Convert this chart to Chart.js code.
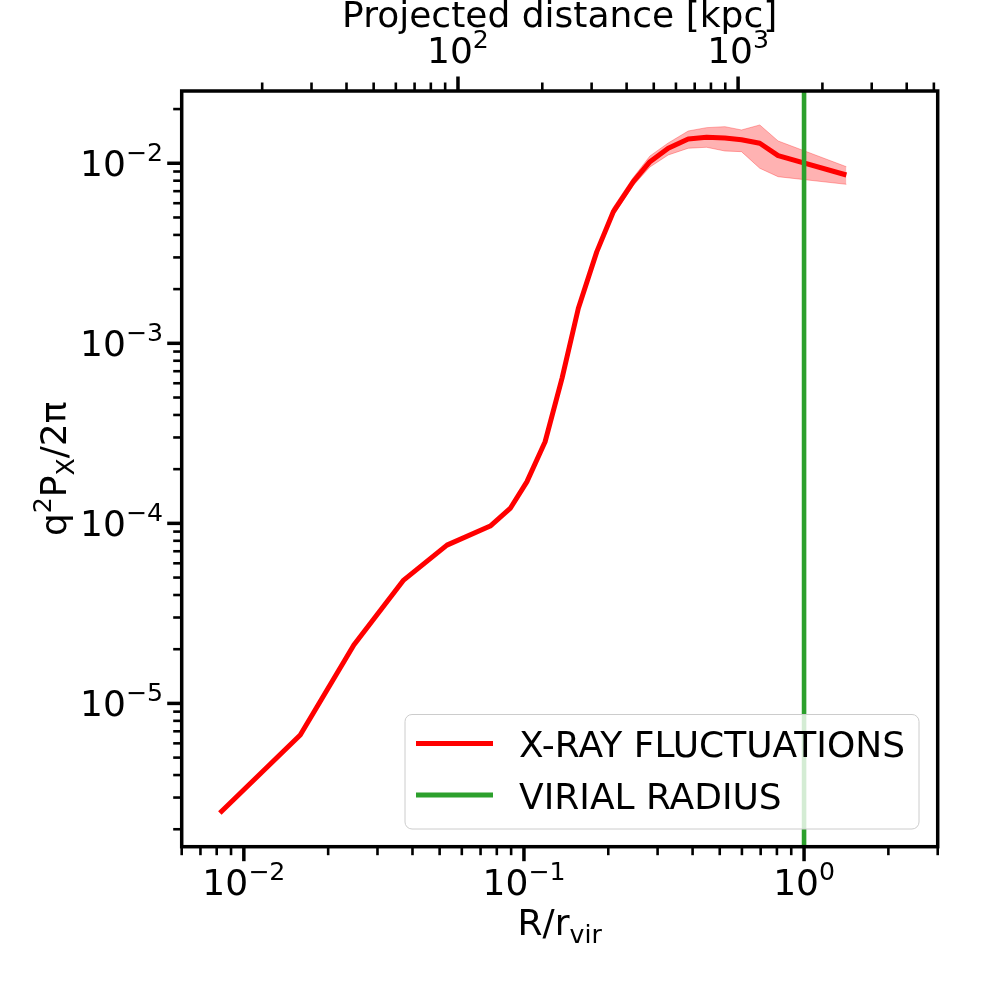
<!DOCTYPE html>
<html>
<head>
<meta charset="utf-8">
<script src="https://cdn.jsdelivr.net/npm/chart.js@4.4.1/dist/chart.umd.min.js"></script>
<style>
  html, body { margin: 0; padding: 0; background: #fff; }
  canvas { display: block; }
</style>
</head>
<body>
<canvas id="chart" width="1008" height="1008"></canvas>
<script>
// ---- DATA ----
// R / r_vir of each bin
const radius = [0.00821, 0.0159, 0.0247, 0.0372, 0.0531, 0.0758, 0.0893, 0.1024, 0.119, 0.1368,
                0.1564, 0.1819, 0.2085, 0.2457, 0.2818, 0.3274, 0.3859, 0.4487, 0.5215, 0.598,
                0.695, 0.808, 1.416];
// q^2 P_X / 2pi
const power = [2.46e-6, 6.67e-6, 2.11e-5, 4.84e-5, 7.57e-5, 9.66e-5, 1.21e-4, 1.70e-4, 2.84e-4, 6.41e-4,
               1.565e-3, 3.22e-3, 5.38e-3, 7.9e-3, 1.021e-2, 1.212e-2, 1.365e-2, 1.395e-2, 1.382e-2, 1.352e-2,
               1.291e-2, 1.102e-2, 8.61e-3];
// scatter band (only visible in the outer bins)
const bandRadius = [0.1819, 0.2085, 0.2457, 0.2818, 0.3274, 0.3859, 0.4487, 0.5215, 0.598, 0.695, 0.808, 1.416];
const bandHigh   = [3.34e-3, 5.7e-3, 8.34e-3, 1.098e-2, 1.296e-2, 1.511e-2, 1.577e-2, 1.597e-2, 1.531e-2, 1.632e-2, 1.33e-2, 9.57e-3];
const bandLow    = [3.12e-3, 5.15e-3, 7.53e-3, 9.54e-3, 1.112e-2, 1.212e-2, 1.227e-2, 1.17e-2, 1.16e-2, 9.38e-3, 8.42e-3, 7.64e-3];

const virialRadius = 1;
const rvirKpc = 1720;              // kpc per r_vir, for the top axis
const xLimits = [0.006, 3];
const yLimits = [1.6e-6, 0.0252];
const xMajor = [0.01, 0.1, 1];
const yMajor = [1e-5, 1e-4, 1e-3, 1e-2];
const kpcMajor = [100, 1000];
const seriesLabels = ['X-RAY FLUCTUATIONS', 'VIRIAL RADIUS'];

const RED = '#ff0000';
const GREEN = '#2ca02c';
const FONT = '"DejaVu Sans", sans-serif';
const FS = 36;
const SUP = 15;     // raise of superscripts
const SUB = -7.8;   // drop of subscripts

const pts = (xs, ys) => xs.map((x, i) => ({ x, y: ys[i] }));

// minor log ticks (2..9 per decade) inside a range
function minorTicks(lo, hi) {
  const out = [];
  for (let e = Math.floor(Math.log10(lo)); e <= Math.ceil(Math.log10(hi)); e++) {
    for (let m = 2; m <= 9; m++) {
      const v = m * Math.pow(10, e);
      if (v >= lo * 0.9999 && v <= hi * 1.0001) out.push(v);
    }
  }
  return out;
}

function setFont(ctx, size) { ctx.font = size.toFixed(2) + 'px ' + FONT; }

function partsWidth(ctx, parts) {
  let w = 0;
  parts.forEach(p => { setFont(ctx, p.size || FS); w += ctx.measureText(p.t).width; });
  return w;
}

// draws text made of runs (normal / raised / lowered)
function drawParts(ctx, parts, x, y, align) {
  const w = partsWidth(ctx, parts);
  let cx = align === 'center' ? x - w / 2 : align === 'right' ? x - w : x;
  ctx.textAlign = 'left';
  ctx.textBaseline = 'alphabetic';
  parts.forEach(p => {
    setFont(ctx, p.size || FS);
    ctx.fillText(p.t, cx, y - (p.dy || 0));
    cx += ctx.measureText(p.t).width;
  });
}

function powLabel(v) {
  const e = Math.round(Math.log10(v));
  return [{ t: '10' }, { t: e < 0 ? '\u2212' + (-e) : String(e), size: FS * 0.7, dy: SUP }];
}

const axesPlugin = {
  id: 'axes',
  afterDraw(chart) {
    const { ctx, chartArea: a, scales } = chart;
    const xs = scales.x, ys = scales.y, top = scales.x2;
    ctx.save();
    ctx.strokeStyle = '#000';
    ctx.fillStyle = '#000';
    ctx.lineCap = 'butt';

    const tick = (px, py, dx, dy, w) => {
      ctx.lineWidth = w;
      ctx.beginPath();
      ctx.moveTo(px, py);
      ctx.lineTo(px + dx, py + dy);
      ctx.stroke();
    };

    // bottom axis
    minorTicks(xLimits[0], xLimits[1]).forEach(v => tick(xs.getPixelForValue(v), a.bottom, 0, 8.5, 2.6));
    xMajor.forEach(v => {
      const px = xs.getPixelForValue(v);
      tick(px, a.bottom, 0, 14.5, 3.5);
      drawParts(ctx, powLabel(v), px, 895, 'center');
    });

    // left axis
    minorTicks(yLimits[0], yLimits[1]).forEach(v => tick(a.left, ys.getPixelForValue(v), -8.5, 0, 2.6));
    yMajor.forEach(v => {
      const py = ys.getPixelForValue(v);
      tick(a.left, py, -14.5, 0, 3.5);
      drawParts(ctx, powLabel(v), 163, py + 12.5, 'right');
    });

    // top axis, projected distance in kpc
    const kLo = xLimits[0] * rvirKpc, kHi = xLimits[1] * rvirKpc;
    minorTicks(kLo, kHi).forEach(v => tick(top.getPixelForValue(v), a.top, 0, -8.5, 2.6));
    kpcMajor.forEach(v => {
      const px = top.getPixelForValue(v);
      tick(px, a.top, 0, -14.5, 3.5);
      drawParts(ctx, powLabel(v), px, 63, 'center');
    });

    // frame
    ctx.lineWidth = 3.5;
    ctx.strokeRect(a.left, a.top, a.right - a.left, a.bottom - a.top);

    // axis titles
    const midX = (a.left + a.right) / 2;
    drawParts(ctx, [{ t: 'Projected distance [kpc]' }], midX, 27, 'center');
    drawParts(ctx, [{ t: 'R/r' }, { t: 'vir', size: FS * 0.7, dy: SUB }], midX, 935, 'center');
    ctx.save();
    ctx.translate(66, (a.top + a.bottom) / 2);
    ctx.rotate(-Math.PI / 2);
    drawParts(ctx, [
      { t: 'q' }, { t: '2', size: FS * 0.7, dy: SUP },
      { t: 'P' }, { t: 'X', size: FS * 0.7, dy: SUB },
      { t: '/2\u03c0' }
    ], 0, 0, 'center');
    ctx.restore();

    // legend
    ctx.beginPath();
    ctx.roundRect(405, 714.5, 514, 114.5, 7);
    ctx.fillStyle = 'rgba(255,255,255,0.8)';
    ctx.fill();
    ctx.lineWidth = 1;
    ctx.strokeStyle = '#cccccc';
    ctx.stroke();
    const rows = [{ c: RED, y: 743.5, base: 756.5 }, { c: GREEN, y: 795, base: 808.5 }];
    rows.forEach((r, i) => {
      ctx.strokeStyle = r.c;
      ctx.lineWidth = 5;
      ctx.beginPath();
      ctx.moveTo(416, r.y);
      ctx.lineTo(493, r.y);
      ctx.stroke();
      ctx.fillStyle = '#000';
      drawParts(ctx, [{ t: seriesLabels[i] }], 519, r.base, 'left');
    });
    ctx.restore();
  }
};

new Chart(document.getElementById('chart'), {
  type: 'line',
  data: {
    datasets: [
      {
        label: 'band high',
        data: pts(bandRadius, bandHigh),
        borderColor: 'rgba(255,0,0,0.3)',
        borderWidth: 1,
        pointRadius: 0,
        fill: false,
        order: 4
      },
      {
        label: 'band low',
        data: pts(bandRadius, bandLow),
        borderColor: 'rgba(255,0,0,0.3)',
        backgroundColor: 'rgba(255,0,0,0.3)',
        borderWidth: 1,
        pointRadius: 0,
        fill: 0,
        order: 3
      },
      {
        label: seriesLabels[0],
        data: pts(radius, power),
        borderColor: RED,
        borderWidth: 5,
        borderJoinStyle: 'round',
        pointRadius: 0,
        fill: false,
        order: 2
      },
      {
        label: seriesLabels[1],
        data: pts([virialRadius, virialRadius], yLimits),
        borderColor: GREEN,
        borderWidth: 4.6,
        pointRadius: 0,
        fill: false,
        order: 1
      }
    ]
  },
  options: {
    responsive: false,
    devicePixelRatio: 1,
    animation: false,
    layout: { padding: { left: 181.7, right: 70.3, top: 91, bottom: 161.3 } },
    plugins: { legend: { display: false }, tooltip: { enabled: false } },
    scales: {
      x: { type: 'logarithmic', min: xLimits[0], max: xLimits[1], display: false },
      y: { type: 'logarithmic', min: yLimits[0], max: yLimits[1], display: false },
      x2: { type: 'logarithmic', position: 'top', min: xLimits[0] * rvirKpc, max: xLimits[1] * rvirKpc, display: false }
    }
  },
  plugins: [axesPlugin]
});
</script>
</body>
</html>
